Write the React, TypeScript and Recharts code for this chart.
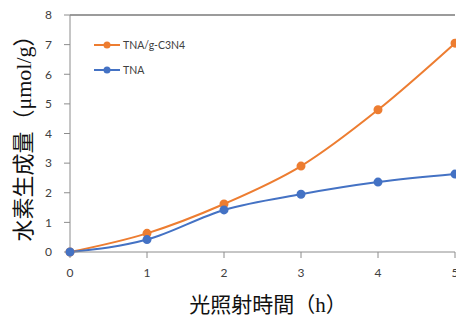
import { LineChart, Line, XAxis, YAxis, Legend, ReferenceLine, Label } from 'recharts';

const hours = [0, 1, 2, 3, 4, 5];
const tnaGC3N4 = [0, 0.63, 1.62, 2.9, 4.8, 7.05];
const tna = [0, 0.42, 1.42, 1.95, 2.36, 2.63];
const yTicks = [0, 1, 2, 3, 4, 5, 6, 7, 8];
const seriesNames = ['TNA/g-C3N4', 'TNA'];

const ORANGE = '#ED7D31';
const BLUE = '#4472C4';
const AXIS = '#8c8c8c';

const data = hours.map((h, i) => ({ h, a: tnaGC3N4[i], b: tna[i] }));

function LegendBox({ payload }: any) {
  const items = [...(payload || [])].sort(
    (p: any, q: any) => seriesNames.indexOf(p.value) - seriesNames.indexOf(q.value)
  );
  return (
    <div>
      {items.map((p: any) => (
        <div key={p.value} style={{ display: 'flex', alignItems: 'center', height: 25 }}>
          <svg width={27} height={10}>
            <line x1={0} y1={5} x2={26} y2={5} stroke={p.color} strokeWidth={2} />
            <circle cx={13} cy={5} r={3.5} fill={p.color} />
          </svg>
          <span style={{ fontFamily: 'Lato, sans-serif', fontSize: 10.5, color: '#404040', marginLeft: 2 }}>
            {p.value}
          </span>
        </div>
      ))}
    </div>
  );
}

export default function App() {
  return (
    <div style={{ position: 'fixed', left: 0, top: 0, width: 456, height: 322, overflow: 'hidden', background: '#fff' }}>
      <LineChart width={470} height={322} data={data} margin={{ top: 15, right: 15, bottom: 0, left: 0 }}>
        <XAxis
          dataKey="h"
          type="number"
          domain={[0, 5]}
          ticks={hours}
          height={70}
          stroke={AXIS}
          tickMargin={10}
          tick={{ fill: '#404040', fontSize: 12, fontFamily: 'Lato, sans-serif' }}
        >
          <Label
            content={() => (
              <text x={268} y={312} textAnchor="middle" fontSize={21} fill="#111">
                <tspan fontFamily="'Noto Sans CJK JP', sans-serif">光照射時間（</tspan>
                <tspan fontFamily="'Liberation Serif', serif">h</tspan>
                <tspan fontFamily="'Noto Sans CJK JP', sans-serif">）</tspan>
              </text>
            )}
          />
        </XAxis>
        <YAxis
          type="number"
          domain={[0, 8]}
          ticks={yTicks}
          width={70}
          stroke={AXIS}
          tickMargin={12}
          tick={{ fill: '#404040', fontSize: 12, fontFamily: 'Lato, sans-serif' }}
        >
          <Label
            content={() => (
              <text
                x={0}
                y={0}
                transform="translate(31,133) rotate(-90)"
                textAnchor="middle"
                fontSize={22}
                fill="#111"
              >
                <tspan fontFamily="'Noto Sans CJK JP', sans-serif">水素生成量（</tspan>
                <tspan fontFamily="'Liberation Serif', serif">μmol/g</tspan>
                <tspan fontFamily="'Noto Sans CJK JP', sans-serif">）</tspan>
              </text>
            )}
          />
        </YAxis>
        <ReferenceLine y={8} stroke="#7a7a7a" strokeWidth={1.5} />
        <Legend
          layout="vertical"
          align="center"
          verticalAlign="middle"
          wrapperStyle={{ left: 94, top: 32, width: 'auto' }}
          content={<LegendBox />}
        />
        <Line
          dataKey="a"
          name="TNA/g-C3N4"
          type="monotone"
          stroke={ORANGE}
          strokeWidth={2}
          dot={{ r: 3.5, fill: ORANGE, stroke: ORANGE }}
          isAnimationActive={false}
        />
        <Line
          dataKey="b"
          name="TNA"
          type="monotone"
          stroke={BLUE}
          strokeWidth={2}
          dot={{ r: 3.5, fill: BLUE, stroke: BLUE }}
          isAnimationActive={false}
        />
      </LineChart>
    </div>
  );
}
